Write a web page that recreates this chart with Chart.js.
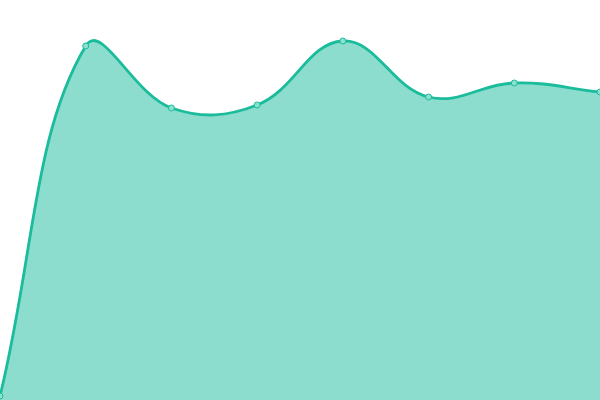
<!DOCTYPE html>
<html>
<head>
<meta charset="utf-8">
<script src="https://cdn.jsdelivr.net/npm/chart.js@4"></script>
<style>
  html, body { margin: 0; padding: 0; background: #fff; }
  #wrap { width: 600px; height: 400px; }
</style>
</head>
<body>
<div id="wrap"><canvas id="chart"></canvas></div>
<script>
const labels = ['1', '2', '3', '4', '5', '6', '7', '8'];
const values = [1, 88.5, 73, 73.75, 89.75, 75.75, 79.25, 77];

new Chart(document.getElementById('chart').getContext('2d'), {
  type: 'line',
  data: {
    labels,
    datasets: [{
      data: values,
      borderColor: '#1abc9c',
      backgroundColor: 'rgba(26,188,156,0.5)',
      borderWidth: 2.8,
      tension: 0.4,
      fill: true,
      pointRadius: 3,
      pointBorderWidth: 1,
      pointBackgroundColor: '#8ce0cf',
      pointBorderColor: '#1abc9c',
    }],
  },
  options: {
    responsive: true,
    maintainAspectRatio: false,
    animation: false,
    layout: { padding: 0, autoPadding: false },
    plugins: { legend: { display: false }, tooltip: { enabled: false } },
    scales: {
      x: { display: false, offset: false },
      y: { display: false, min: 0, max: 100 },
    },
  },
});
</script>
</body>
</html>
